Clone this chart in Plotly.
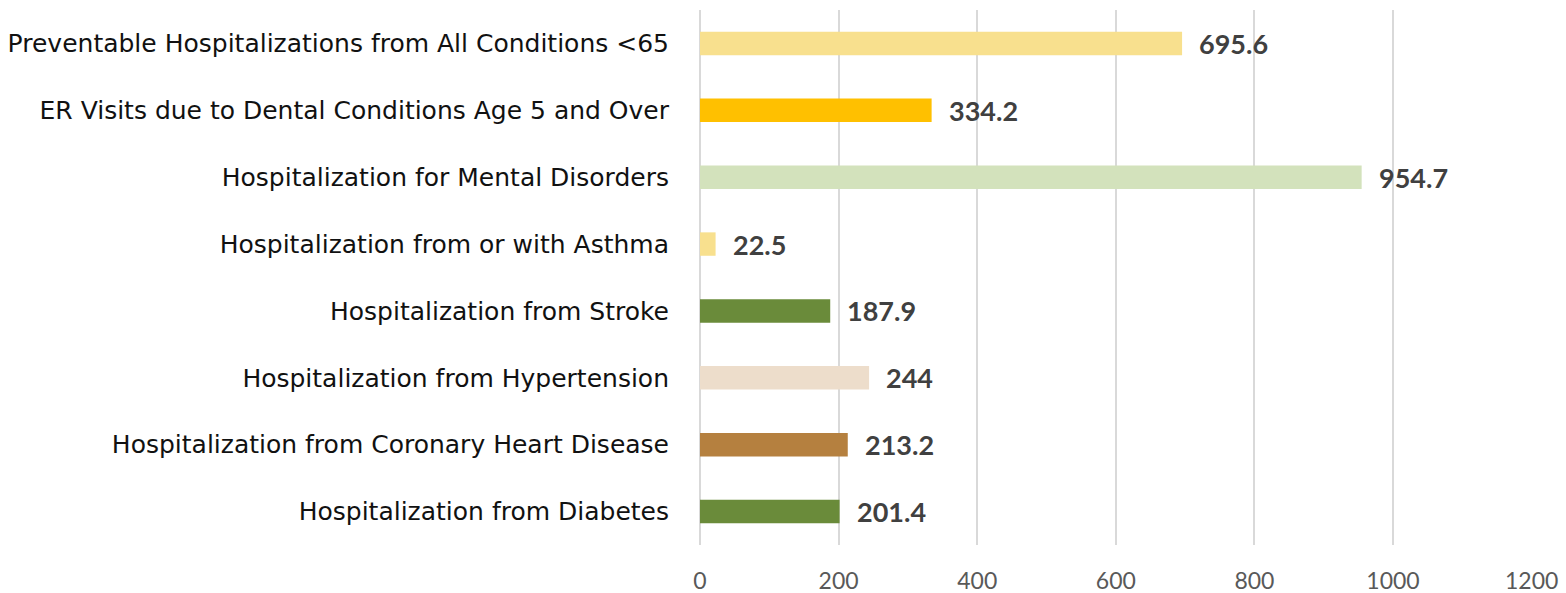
import plotly.graph_objects as go

categories = [
    "Preventable Hospitalizations from All Conditions <65",
    "ER Visits due to Dental Conditions Age 5 and Over",
    "Hospitalization for Mental Disorders",
    "Hospitalization from or with Asthma",
    "Hospitalization from Stroke",
    "Hospitalization from Hypertension",
    "Hospitalization from Coronary Heart Disease",
    "Hospitalization from Diabetes",
]
values = [695.6, 334.2, 954.7, 22.5, 187.9, 244, 213.2, 201.4]
value_labels = ["695.6", "334.2", "954.7", "22.5", "187.9", "244", "213.2", "201.4"]
colors = ["#F8E08E", "#FFC000", "#D3E2BC", "#F8E08E", "#6A8B3A", "#EDDDCB", "#B5803F", "#6A8B3A"]
tick_vals = [0, 200, 400, 600, 800, 1000, 1200]

fig = go.Figure()
fig.add_trace(go.Bar(
    x=values,
    y=categories,
    orientation="h",
    marker=dict(color=colors, line=dict(width=0)),
    hoverinfo="skip",
))

for v, c, t in zip(values, categories, value_labels):
    fig.add_annotation(
        x=v, y=c, text=f"<b>{t}</b>", showarrow=False,
        xanchor="left", yanchor="middle", xshift=15,
        font=dict(family="Lato, Open Sans, sans-serif", size=27, color="#404040"),
    )

fig.update_layout(
    width=1566, height=593,
    margin=dict(l=700, r=34, t=10, b=48, autoexpand=False),
    paper_bgcolor="white", plot_bgcolor="white",
    bargap=0.65,
    showlegend=False,
    font=dict(family="Lato, Open Sans, sans-serif"),
)
fig.update_xaxes(
    range=[0, 1200.5], tickvals=tick_vals, ticktext=[str(t) for t in tick_vals],
    showgrid=True, gridcolor="#D9D9D9", gridwidth=1.5,
    zeroline=True, zerolinecolor="#D9D9D9", zerolinewidth=1.5,
    showline=False, ticks="", automargin=False,
    tickfont=dict(family="Lato, Open Sans, sans-serif", size=23, color="#595959"),
    ticklabelstandoff=20,
)
fig.update_yaxes(
    categoryorder="array", categoryarray=categories[::-1],
    showgrid=False, showline=False, ticks="", automargin=False,
    tickfont=dict(family="DejaVu Sans, sans-serif", size=25, color="#111111"),
    ticklabelstandoff=30,
)

fig.write_html(
    "out.html",
    config={"displayModeBar": False},
    post_script="document.body.style.margin='0';document.documentElement.style.overflow='hidden';",
)
